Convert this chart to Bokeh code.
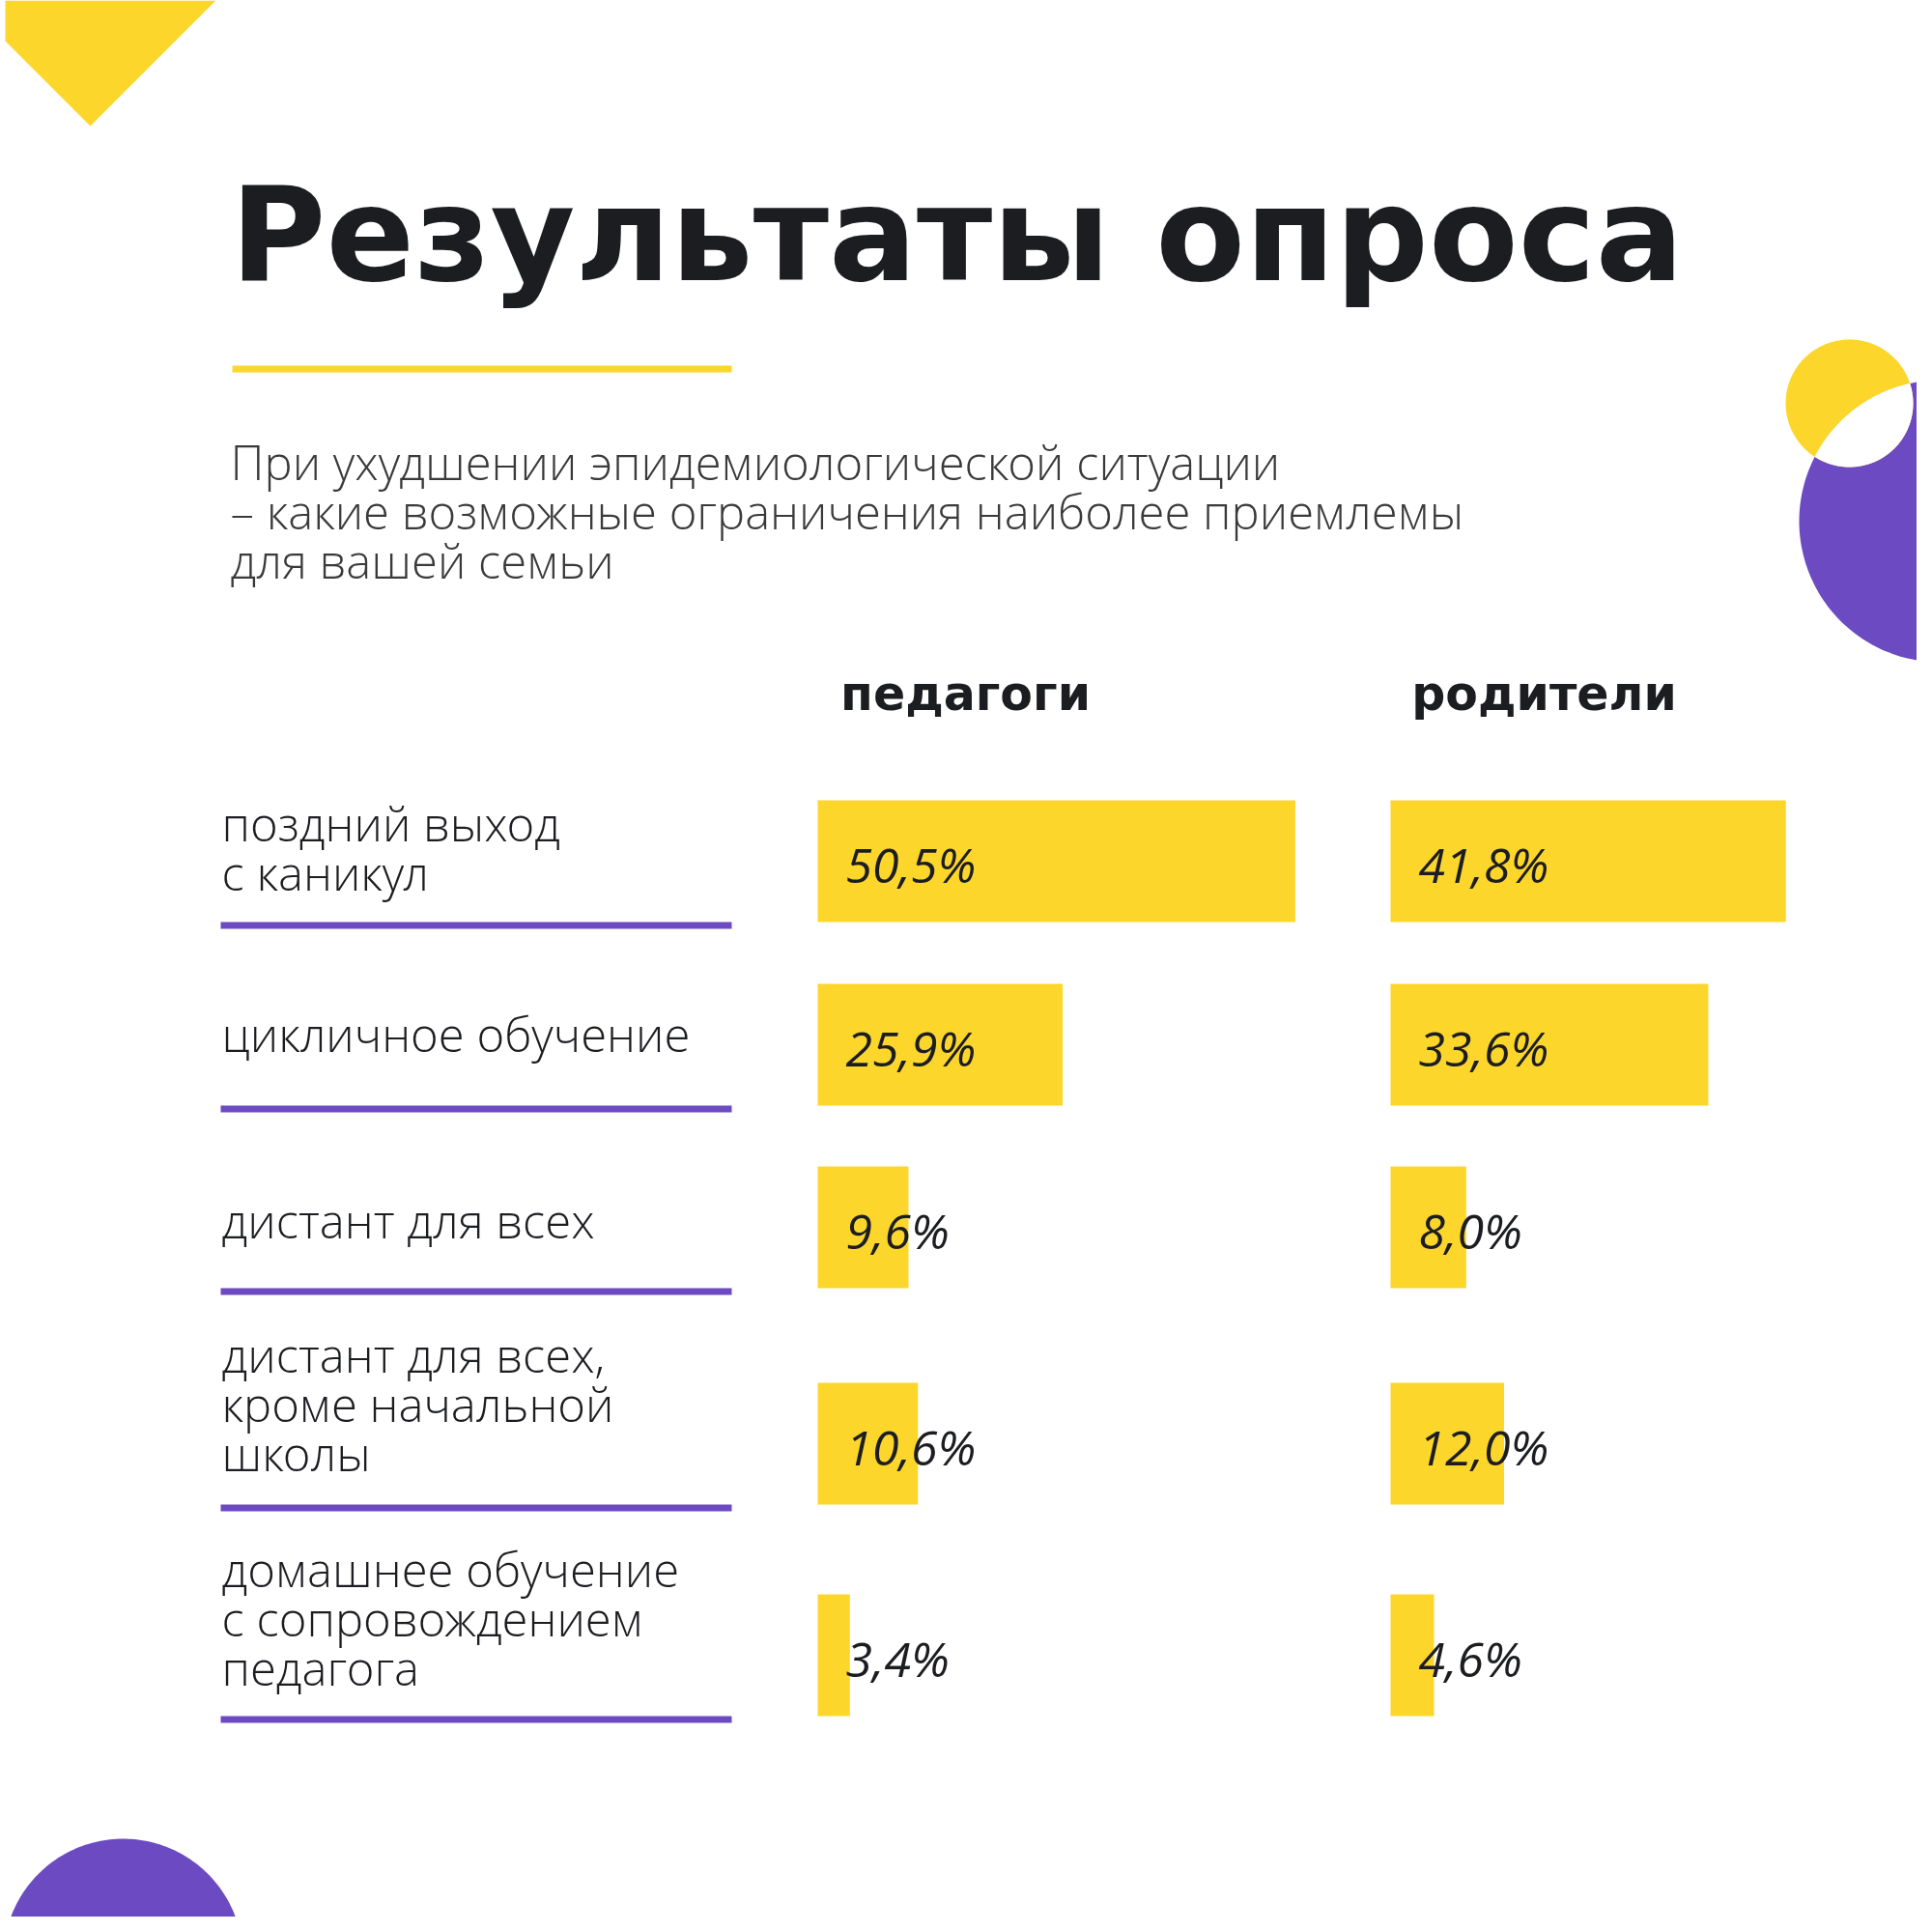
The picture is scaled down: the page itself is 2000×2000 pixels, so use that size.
import numpy as np
from bokeh.plotting import figure
from bokeh.models import Range1d, ColumnDataSource
from bokeh.core.properties import value
from bokeh.embed import file_html
from bokeh.resources import INLINE

# ---------------- data ----------------
title = "Результаты опроса"
subtitle_lines = [
    "При ухудшении эпидемиологической ситуации",
    "– какие возможные ограничения наиболее приемлемы",
    "для вашей семьи",
]
groups = ["педагоги", "родители"]
categories = [
    "поздний выход\nс каникул",
    "цикличное обучение",
    "дистант для всех",
    "дистант для всех,\nкроме начальной\nшколы",
    "домашнее обучение\nс сопровождением\nпедагога",
]
teachers = [50.5, 25.9, 9.6, 10.6, 3.4]
parents = [41.8, 33.6, 8.0, 12.0, 4.6]

# ---------------- style / layout ----------------
YELLOW = "#FDD62B"
PURPLE = "#6C4AC1"
INK = "#1C1D21"
GREY = "#3A3A3A"
TITLE_FONT = value("DejaVu Sans")
LIGHT_FONT = value("Open Sans Light, Open Sans")
VAL_FONT = value("Open Sans")
BASE_SHIFT = 0.38  # em; converts a wanted baseline to the y Bokeh needs


def base(y, fs):
    return y - BASE_SHIFT * fs


W = H = 1984
p = figure(width=W, height=H, x_range=Range1d(0, W), y_range=Range1d(H, 0),
           x_axis_type=None, y_axis_type=None, output_backend="svg",
           toolbar_location=None, min_border=0)
p.grid.visible = False
p.outline_line_color = None
p.background_fill_color = "white"
p.border_fill_color = "white"

# ---------------- decorations ----------------
def arc(cx, cy, r, a0, a1, n=240):
    t = np.linspace(a0, a1, n)
    return list(cx + r * np.cos(t)), list(cy + r * np.sin(t))

# top-left yellow chevron
p.patch([5, 223, 93, 5], [0, 0, 130, 42], fill_color=YELLOW, line_color=None)
# bottom-left purple circle
xs, ys = arc(127, 2027, 124, 0, 2 * np.pi)
p.patch(xs, ys, fill_color=PURPLE, line_color=None)
# right: purple big circle + yellow small circle, overlap is white
c1, r1 = (1914.0, 417.0), 66.0
c2, r2 = (2008.0, 539.0), 146.0
xs, ys = arc(*c2, r2, 0, 2 * np.pi)
p.patch(xs, ys, fill_color=PURPLE, line_color=None)
xs, ys = arc(*c1, r1, 0, 2 * np.pi)
p.patch(xs, ys, fill_color=YELLOW, line_color=None)
dx, dy = c2[0] - c1[0], c2[1] - c1[1]
d = np.hypot(dx, dy)
t12 = np.arctan2(dy, dx)
t21 = t12 + np.pi
a1 = np.arccos((d * d + r1 * r1 - r2 * r2) / (2 * d * r1))
a2 = np.arccos((d * d + r2 * r2 - r1 * r1) / (2 * d * r2))
lx1, ly1 = arc(*c1, r1, t12 - a1, t12 + a1)
lx2, ly2 = arc(*c2, r2, t21 - a2, t21 + a2)
p.patch(lx1 + lx2, ly1 + ly2, fill_color="white", line_color=None)

# ---------------- title block ----------------
FS_TITLE = 135
p.text(x=[238], y=[base(294, FS_TITLE)], text=[title], text_font=TITLE_FONT,
       text_font_style="bold", text_font_size=f"{FS_TITLE}px", text_color=INK,
       text_baseline="alphabetic")
p.quad(left=[240], right=[757], top=[378], bottom=[385], fill_color=YELLOW, line_color=None)

FS_SUB = 49
sub_y = [base(496 + 51 * i, FS_SUB) for i in range(len(subtitle_lines))]
p.text(x=[238] * len(subtitle_lines), y=sub_y, text=subtitle_lines, text_font=LIGHT_FONT,
       text_font_size=f"{FS_SUB}px", text_color=GREY, text_baseline="alphabetic")

# ---------------- column headers ----------------
col_x0 = [846, 1439]
head_cx = [999, 1598]
FS_HEAD = 49
p.text(x=head_cx, y=[base(737, FS_HEAD)] * 2, text=groups, text_font=TITLE_FONT,
       text_font_style="bold", text_font_size=f"{FS_HEAD}px", text_color=INK,
       text_align="center", text_baseline="alphabetic")

# ---------------- rows ----------------
row_top = [828, 1018, 1207, 1431, 1650]
bar_h = 126
px_per_pct = 9.79
label_first_base = [870, 1088, 1281, 1420, 1642]
line_step = 51
FS_VAL = 50
FS_LAB = 49


def fmt(v):
    return f"{v:.1f}".replace(".", ",") + "%"


for ci, vals in enumerate([teachers, parents]):
    x0 = col_x0[ci]
    src = ColumnDataSource(dict(
        left=[x0] * len(vals),
        right=[x0 + v * px_per_pct for v in vals],
        top=row_top,
        bottom=[t + bar_h for t in row_top],
    ))
    p.quad(left="left", right="right", top="top", bottom="bottom", source=src,
           fill_color=YELLOW, line_color=None)
    p.text(x=[x0 + 29] * len(vals), y=[base(t + 85, FS_VAL) for t in row_top],
           text=[fmt(v) for v in vals], text_font=VAL_FONT, text_font_style="italic",
           text_font_size=f"{FS_VAL}px", text_color=INK, text_baseline="alphabetic")

# category labels and separators
lab_x, lab_y, lab_t = [], [], []
for i, cat in enumerate(categories):
    for j, line in enumerate(cat.split("\n")):
        lab_x.append(229)
        lab_y.append(base(label_first_base[i] + j * line_step, FS_LAB))
        lab_t.append(line)
p.text(x=lab_x, y=lab_y, text=lab_t, text_font=LIGHT_FONT, text_font_size=f"{FS_LAB}px",
       text_color=INK, text_baseline="alphabetic")
p.quad(left=[228] * len(row_top), right=[757] * len(row_top),
       top=[t + bar_h for t in row_top], bottom=[t + bar_h + 7 for t in row_top],
       fill_color=PURPLE, line_color=None)

open("out.html", "w").write(file_html(p, INLINE))
